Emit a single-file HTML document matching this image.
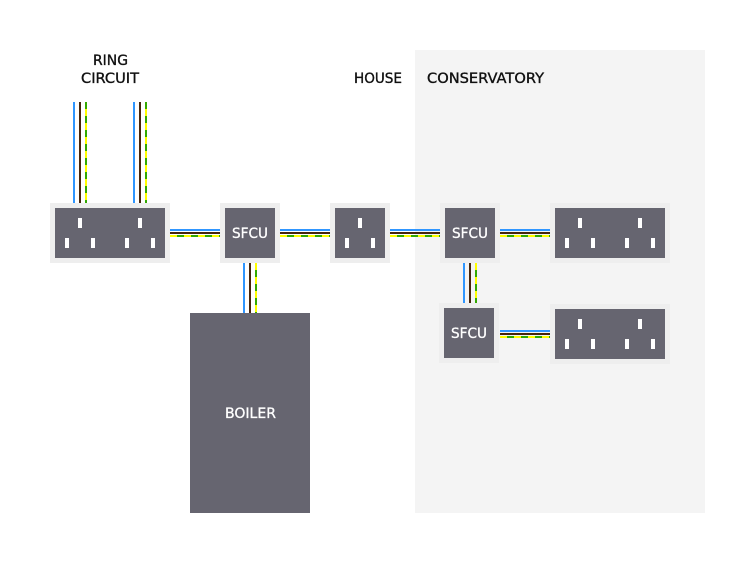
<!DOCTYPE html>
<html>
<head>
<meta charset="utf-8">
<style>
html,body{margin:0;padding:0;background:#fff;width:755px;height:563px;overflow:hidden}
svg{display:block}
text{font-family:"DejaVu Sans","Liberation Sans",sans-serif;font-size:14px}
.d{stroke:#111;stroke-width:.35px}
.l{stroke:#fff;stroke-width:.3px}
</style>
</head>
<body>
<svg width="755" height="563" viewBox="0 0 755 563" xmlns="http://www.w3.org/2000/svg">
<rect width="755" height="563" fill="#fff"/>
<rect x="415" y="50" width="290" height="463" fill="#f4f4f4"/>

<!-- outer frames -->
<g fill="#eeeeee">
<rect x="50" y="203" width="120" height="60"/>
<rect x="220" y="203" width="60" height="60"/>
<rect x="330" y="203" width="60" height="60"/>
<rect x="440" y="203" width="60" height="60"/>
<rect x="550" y="203" width="120" height="60"/>
<rect x="439" y="303" width="60" height="60"/>
<rect x="550" y="304" width="120" height="60"/>
</g>

<!-- inner boxes -->
<g fill="#666570">
<rect x="55" y="208" width="110" height="50"/>
<rect x="225" y="208" width="50" height="50"/>
<rect x="335" y="208" width="50" height="50"/>
<rect x="445" y="208" width="50" height="50"/>
<rect x="555" y="208" width="110" height="50"/>
<rect x="444" y="308" width="50" height="50"/>
<rect x="555" y="309" width="110" height="50"/>
<rect x="190" y="313" width="120" height="200"/>
</g>

<!-- pins -->
<g fill="#fff">
<rect x="78" y="218" width="4" height="10"/><rect x="65" y="238" width="4" height="10"/><rect x="91" y="238" width="4" height="10"/>
<rect x="138" y="218" width="4" height="10"/><rect x="125" y="238" width="4" height="10"/><rect x="151" y="238" width="4" height="10"/>
<rect x="358" y="218" width="4" height="10"/><rect x="345" y="238" width="4" height="10"/><rect x="371" y="238" width="4" height="10"/>
<rect x="578" y="218" width="4" height="10"/><rect x="565" y="238" width="4" height="10"/><rect x="591" y="238" width="4" height="10"/>
<rect x="638" y="218" width="4" height="10"/><rect x="625" y="238" width="4" height="10"/><rect x="651" y="238" width="4" height="10"/>
<rect x="578" y="319" width="4" height="10"/><rect x="565" y="339" width="4" height="10"/><rect x="591" y="339" width="4" height="10"/>
<rect x="638" y="319" width="4" height="10"/><rect x="625" y="339" width="4" height="10"/><rect x="651" y="339" width="4" height="10"/>
</g>

<!-- blue wires -->
<g stroke="#2f96ff" stroke-width="2" fill="none">
<path d="M74 102V203M134 102V203M244 263V313M464 263V303"/>
<path d="M170 230H220M280 230H330M390 230H440M500 230H550M500 331H550"/>
</g>
<!-- brown wires -->
<g stroke="#45260c" stroke-width="2" fill="none">
<path d="M80 102V203M140 102V203M250 263V313M470 263V303"/>
<path d="M170 233H220M280 233H330M390 233H440M500 233H550M500 334H550"/>
</g>
<!-- earth yellow -->
<g stroke="#ffff00" stroke-width="2" fill="none">
<path d="M86 102V203M146 102V203M256 263V313M476 263V303"/>
<path d="M170 236H220M280 236H330M390 236H440M500 236H550M500 337H550"/>
</g>
<!-- earth green -->
<g stroke="#33a800" stroke-width="2" fill="none" stroke-dasharray="7 7">
<path d="M86 102V203M146 102V203"/>
<path d="M256 270V313M476 270V303"/>
<path d="M177 236H220M287 236H330M397 236H440M507 236H550M507 337H550"/>
</g>

<!-- labels -->
<g fill="#111" class="d">
<text x="93" y="65" textLength="35" lengthAdjust="spacingAndGlyphs">RING</text>
<text x="81" y="83" textLength="58" lengthAdjust="spacingAndGlyphs">CIRCUIT</text>
<text x="354" y="83" textLength="48" lengthAdjust="spacingAndGlyphs">HOUSE</text>
<text x="427" y="83" textLength="117" lengthAdjust="spacingAndGlyphs">CONSERVATORY</text>
</g>
<g fill="#fff" class="l">
<text x="232" y="238" textLength="36" lengthAdjust="spacingAndGlyphs">SFCU</text>
<text x="452" y="238" textLength="36" lengthAdjust="spacingAndGlyphs">SFCU</text>
<text x="451" y="338" textLength="36" lengthAdjust="spacingAndGlyphs">SFCU</text>
<text x="225" y="418" textLength="51" lengthAdjust="spacingAndGlyphs">BOILER</text>
</g>
</svg>
</body>
</html>
